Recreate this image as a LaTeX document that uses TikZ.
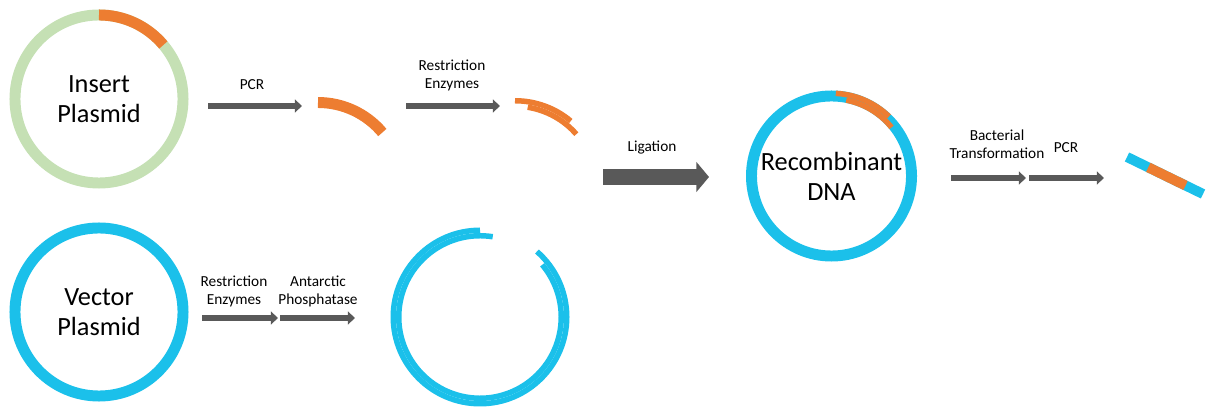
\documentclass[tikz,border=0pt]{standalone}
\usepackage{fontspec}
\setmainfont{Carlito}
\definecolor{InsertGreen}{RGB}{197,224,180}
\definecolor{InsertOrange}{RGB}{237,125,49}
\definecolor{VectorBlue}{RGB}{27,192,234}
\definecolor{ArrowGray}{RGB}{89,89,89}
\usepackage{tikz}
\usetikzlibrary{arrows.meta, positioning, calc}

\tikzset{
  plasmid/.style={circle, line width=7.8pt, minimum size=4.2cm, inner sep=0pt, outer sep=0pt,
                  align=center, font=\fontsize{18.7}{21.3}\selectfont},
  strand/.style={line width=3.91pt},
  flow/.style={ArrowGray, line width=4.3pt, -{Triangle[length=5pt,width=9pt]}},
  steplabel/.style={align=center, font=\fontsize{10.9}{12.8}\selectfont},
}

\begin{document}
\begin{tikzpicture}[x=0.025cm, y=0.025cm]
      \useasboundingbox (0,0) rectangle (1209,407);
      % starting plasmids
      \node[plasmid, draw=InsertGreen] (insert) at (99,308) {Insert\\Plasmid};
      \draw[InsertOrange, line width=7.8pt] (insert.90) arc[start angle=90, end angle=40, radius=84];
      \node[plasmid, draw=VectorBlue] (vector) at (99,95) {Vector\\Plasmid};

      % insert after PCR and after digestion
      \coordinate (pcrfrag) at (318,220.5);
      \draw[InsertOrange, line width=7.8pt] ([shift={(90:84)}]pcrfrag) arc[start angle=90, end angle=40, radius=84];
      \coordinate (cutfrag) at (515,219.5);
      \draw[InsertOrange, strand] ([shift={(90:86.75)}]cutfrag) arc[start angle=90, end angle=50, radius=86.75];
      \draw[InsertOrange, strand] ([shift={(81:81.25)}]cutfrag) arc[start angle=81, end angle=41, radius=81.25];

      % opened vector
      \coordinate (openvec) at (480,90);
      \draw[VectorBlue, strand] ([shift={(90:86.75)}]openvec) arc[start angle=90, end angle=409, radius=86.75];
      \draw[VectorBlue, strand] ([shift={(81:81.25)}]openvec) arc[start angle=81, end angle=400, radius=81.25];

      % ligated product
      \node[plasmid, draw=VectorBlue, minimum size=4cm] (recomb) at (831.5,231) {Recombinant\\DNA};
      \draw[InsertOrange, strand] ([shift={(87:82.75)}]recomb.center) arc[start angle=87, end angle=46, radius=82.75];
      \draw[InsertOrange, strand] ([shift={(79:77.25)}]recomb.center) arc[start angle=79, end angle=39, radius=77.25];

      % amplified insert
      \coordinate (prodA) at (1127,250);
      \coordinate (prodB) at (1203,213);
      \draw[VectorBlue, line width=7.1pt] (prodA) -- (prodB);
      \draw[InsertOrange, line width=7.1pt] ($(prodA)!0.28!(prodB)$) -- ($(prodA)!0.77!(prodB)$);

      % steps, top row
      \coordinate (pcrA) at (208,301);
      \coordinate (pcrB) at (302,301);
      \draw[flow] (pcrA) -- (pcrB);
      \node[steplabel] (pcrlbl) at (252,322) {PCR};
      \coordinate (reA) at (406,301);
      \coordinate (reB) at (500,301);
      \draw[flow] (reA) -- (reB);
      \node[steplabel] (relbl) at (452,332) {Restriction\\Enzymes};

      % ligation
      \coordinate (ligA) at (603,230);
      \coordinate (ligB) at (709,230);
      \draw[ArrowGray, line width=10.7pt, -{Triangle[length=9pt,width=21pt]}] (ligA) -- (ligB);
      \node[steplabel] (liglbl) at (652,259) {Ligation};

      % after ligation
      \coordinate (btA) at (951,229);
      \coordinate (btB) at (1026,229);
      \draw[flow] (btA) -- (btB);
      \node[steplabel] (btlbl) at (997,262.5) {Bacterial\\Transformation};
      \coordinate (pcr2A) at (1029,229);
      \coordinate (pcr2B) at (1104,229);
      \draw[flow] (pcr2A) -- (pcr2B);
      \node[steplabel] (pcr2lbl) at (1066,259) {PCR};

      % steps, bottom row
      \coordinate (re2A) at (202,89);
      \coordinate (re2B) at (278,89);
      \draw[flow] (re2A) -- (re2B);
      \node[steplabel] (re2lbl) at (234,116) {Restriction\\Enzymes};
      \coordinate (apA) at (280,89);
      \coordinate (apB) at (355,89);
      \draw[flow] (apA) -- (apB);
      \node[steplabel] (aplbl) at (318,116) {Antarctic\\Phosphatase};
\end{tikzpicture}
\end{document}
